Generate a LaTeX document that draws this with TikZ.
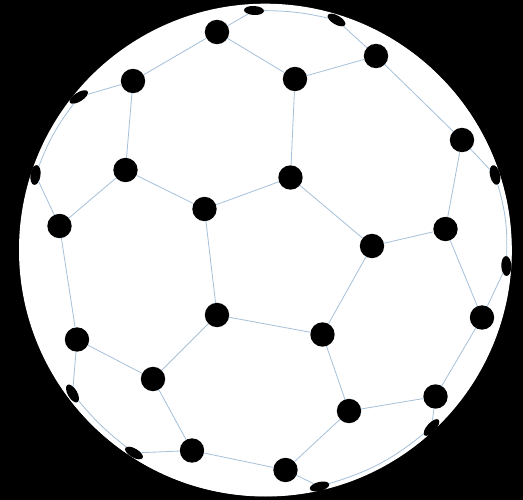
\documentclass[tikz,border=0pt]{standalone}
\usetikzlibrary{shapes.geometric}
\definecolor{edgeblue}{RGB}{165,192,218}
\tikzset{
  ball/.style={circle,fill=black,draw=none,minimum size=24.4pt,inner sep=0pt,outer sep=0pt},
  rimdot/.style={ellipse,fill=black,draw=none,inner sep=0pt,outer sep=0pt,minimum width=#1,minimum height=8pt},
  rimdot/.default=18pt,
  seam/.style={draw=edgeblue,line width=0.8pt},
  globe/.style={circle,fill=white,draw=none,minimum size=492pt,inner sep=0pt}
}
\begin{document}
\begin{tikzpicture}[x=1pt,y=-1pt]
\fill[black] (0,0) rectangle (523,500);
\useasboundingbox (0,0) rectangle (523,500);
\node[globe] (sphere) at (265.8,250.5) {};
\fill[white] (265.2,249.9) circle[radius=246.2pt];
\foreach \n/\x/\y in {a/217/32,b/133/81,c/295/79,d/376/56,e/462/140,f/125.5/170,g/204.5/209,h/290.5/177.5,
  i/372/246,j/445.5/229,k/59.5/226,l/77/339.5,m/217/315,n/322.5/334.5,o/482/317.5,p/153/379,q/349/411,r/435.5/396.5,s/192/450.5,t/285.5/470}
  {\node[ball] (\n) at (\x,\y) {};}
\node[rimdot=20pt,minimum height=9pt,rotate=-3] (u1) at (254,10.5) {};
\node[rimdot=20pt,minimum height=9pt,rotate=-30] (u2) at (336.5,20) {};
\node[rimdot=20pt,minimum height=10pt,rotate=-77] (u3) at (495,175) {};
\node[rimdot=20pt,minimum height=10pt,rotate=-88] (u4) at (506.3,266) {};
\node[rimdot=21pt,minimum height=9pt,rotate=48] (u5) at (431.5,427.5) {};
\node[rimdot=20pt,minimum height=9pt,rotate=14] (u6) at (319.5,486.5) {};
\node[rimdot=20pt,minimum height=9pt,rotate=-30] (u7) at (134,453) {};
\node[rimdot=20pt,minimum height=9.5pt,rotate=-60] (u8) at (72.5,393.5) {};
\node[rimdot=20pt,minimum height=10pt,rotate=82] (u9) at (35.5,175) {};
\node[rimdot=21pt,minimum height=9pt,rotate=32] (u10) at (78.8,97) {};
\foreach \p/\q in {a/u1,a/b,a/c,b/u10,b/f,c/d,c/h,d/u2,d/e,e/u3,e/j,f/k,f/g,g/h,g/m,h/i,i/j,i/n,j/o,k/u9,k/l,l/u8,l/p,m/p,m/n,n/q,o/u4,o/r,p/s,q/r,q/t,r/u5,s/u7,s/t,t/u6}
  {\draw[seam] (\p) -- (\q);}
\draw[seam] (u1) to[bend left=6] (u2);
\draw[seam] (u3) to[bend left=9] (u4);
\draw[seam] (u5) to[bend left=11] (u6);
\draw[seam] (u7) to[bend left=6] (u8);
\draw[seam] (u9) to[bend left=8] (u10);
\end{tikzpicture}
\end{document}
